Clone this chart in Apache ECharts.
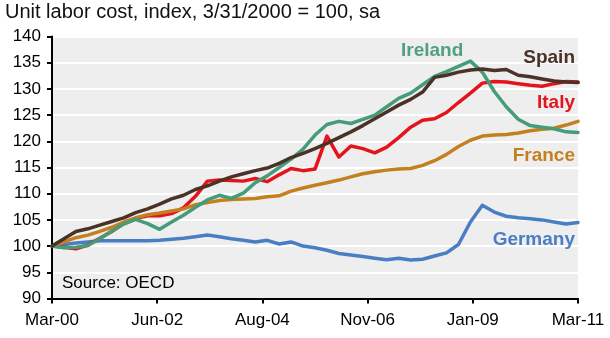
<!DOCTYPE html>
<html>
<head>
<meta charset="utf-8">
<script src="https://cdn.jsdelivr.net/npm/echarts@6/dist/echarts.min.js"></script>
<style>
html,body{margin:0;padding:0;background:#fff;}
#c{width:610px;height:338px;}
</style>
</head>
<body>
<div id="c"></div>
<script>
// Quarterly observations, Mar-00 .. Mar-11 (45 quarters)
const tickLabels = ["Mar-00", "Jun-02", "Aug-04", "Nov-06", "Jan-09", "Mar-11"];
const germany = [100,100.3,100.6,100.8,101,101,101,101,101,101.1,101.3,101.5,101.8,102.1,101.8,101.4,101.1,100.8,101.1,100.4,100.8,100,99.7,99.2,98.6,98.3,98,97.7,97.4,97.7,97.35,97.5,98.1,98.7,100.3,104.6,107.8,106.5,105.7,105.4,105.2,105,104.6,104.2,104.5];
const france = [100,100.8,101.6,102.1,102.8,103.6,104.6,105.4,106,106.3,106.7,107.1,107.9,108.3,108.7,108.9,109,109.1,109.4,109.6,110.5,111.1,111.6,112.1,112.6,113.2,113.8,114.2,114.5,114.7,114.8,115.4,116.3,117.5,119,120.2,121,121.2,121.3,121.6,122,122.3,122.5,123.1,123.8];
const italy = [100,99.8,99.5,100.2,101.5,102.8,104.3,105.3,105.8,105.8,106.2,107.3,109.5,112.4,112.6,112.5,112.4,112.9,112.3,113.6,114.8,114.4,114.7,121,117,119.1,118.6,117.8,118.9,120.7,122.7,124,124.3,125.5,127.4,129.2,131.1,131.4,131.3,131,130.7,130.5,131,131.4,131.3];
const ireland = [100,99.7,99.8,100.1,101.4,102.9,104.2,105.1,104.3,103.2,104.6,105.9,107.4,108.8,109.7,109.1,110.1,112.1,113.4,115,116.6,118.5,121.2,123.2,123.8,123.4,124.2,125,126.6,128.2,129.2,130.8,132.4,133.3,134.3,135.3,133.2,129.5,126.6,124.2,123,122.7,122.4,121.8,121.7];
const spain = [100,101.4,102.8,103.3,104,104.7,105.4,106.4,107.1,108,109,109.7,110.8,111.5,112.4,113.2,113.8,114.4,114.9,115.8,116.9,117.7,118.6,119.6,120.7,121.8,123,124.3,125.6,126.9,128,129.4,132.2,132.6,133.2,133.6,133.8,133.5,133.7,132.6,132.3,131.9,131.5,131.3,131.2];

const FONT = '"Liberation Sans", Arial, sans-serif';
const months = (arr) => arr.map((v, i) => [i * 3, v]);

const chart = echarts.init(document.getElementById('c'), null, {renderer: 'canvas'});

function line(name, data, color, z) {
  return {
    name, type: 'line', data: months(data), showSymbol: false, symbol: 'none',
    lineStyle: {color, width: 3.5, join: 'round', cap: 'round'},
    z, animation: false
  };
}

chart.setOption({
  animation: false,
  grid: {left: 52, right: 32, top: 36.5, bottom: 39.5, show: true, backgroundColor: '#eeeeee', borderWidth: 0},
  xAxis: {
    type: 'value', min: 0, max: 132, interval: 26.4,
    axisLine: {show: true, onZero: false, lineStyle: {color: '#000', width: 2}},
    axisTick: {show: true, length: 5, lineStyle: {color: '#000', width: 2}},
    splitLine: {show: false},
    axisLabel: {
      color: '#000', fontSize: 17, fontFamily: FONT, margin: 13,
      formatter: (v) => tickLabels[Math.round(v / 26.4)] || ''
    }
  },
  yAxis: {
    type: 'value', min: 90, max: 140, interval: 5,
    axisLine: {show: true, lineStyle: {color: '#000', width: 2}},
    axisTick: {show: true, length: 5, lineStyle: {color: '#000', width: 2}},
    splitLine: {show: true, lineStyle: {color: '#ffffff', width: 2}},
    axisLabel: {color: '#000', fontSize: 17, fontFamily: FONT, margin: 11}
  },
  series: [
    line('Germany', germany, '#4a7ec4', 2),
    line('Italy', italy, '#e3141c', 3),
    line('France', france, '#c4801f', 4),
    line('Ireland', ireland, '#449c78', 5),
    line('Spain', spain, '#4b3127', 6)
  ],
  graphic: {
    elements: [
      {type: 'text', z: 100, left: 5, top: 2, style: {text: 'Unit labor cost, index, 3/31/2000 = 100, sa', fill: '#111', font: '20px ' + FONT}},
      {type: 'text', z: 100, left: 401, top: 41, style: {text: 'Ireland', fill: '#52a07f', font: 'bold 19px ' + FONT}},
      {type: 'text', z: 100, right: 35, top: 48, style: {text: 'Spain', fill: '#4b3127', font: 'bold 19px ' + FONT}},
      {type: 'text', z: 100, right: 35, top: 93, style: {text: 'Italy', fill: '#e3141c', font: 'bold 19px ' + FONT}},
      {type: 'text', z: 100, right: 35, top: 146, style: {text: 'France', fill: '#c4801f', font: 'bold 19px ' + FONT}},
      {type: 'text', z: 100, right: 35, top: 230, style: {text: 'Germany', fill: '#4a7ec4', font: 'bold 19px ' + FONT}},
      {type: 'text', z: 100, left: 62, top: 275, style: {text: 'Source: OECD', fill: '#000', font: '17px ' + FONT}}
    ]
  }
});
</script>
</body>
</html>
